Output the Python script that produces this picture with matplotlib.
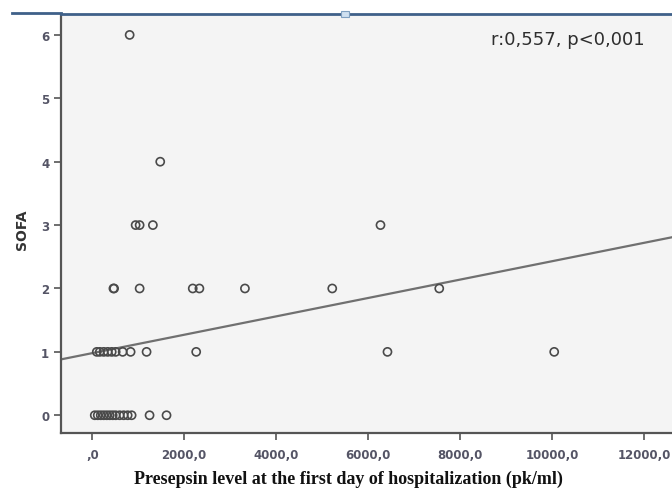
import matplotlib
matplotlib.use("Agg")
import matplotlib.pyplot as plt
from matplotlib.patches import Rectangle
import numpy as np

# --- data ---
presepsin_sofa0 = [54, 119, 184, 249, 314, 379, 444, 509, 596, 683, 770, 856, 1246, 1615]
presepsin_sofa1 = [98, 163, 249, 336, 423, 509, 661, 834, 1181, 2260, 6420, 10046]
presepsin_sofa2 = [460, 475, 1030, 2185, 2330, 3320, 5219, 7546]
presepsin_sofa3 = [943, 1030, 1318, 6268]
presepsin_sofa4 = [1478]
presepsin_sofa6 = [813]

sofa_levels = [0, 1, 2, 3, 4, 6]
fit_intercept = 0.98
fit_slope = 0.000145

x_ticks = [0, 2000, 4000, 6000, 8000, 10000, 12000]
x_tick_labels = [",0", "2000,0", "4000,0", "6000,0", "8000,0", "10000,0", "12000,0"]
y_ticks = [0, 1, 2, 3, 4, 5, 6]
annotation = "r:0,557, p<0,001"
x_label = "Presepsin level at the first day of hospitalization (pk/ml)"
y_label = "SOFA"

fig = plt.figure(figsize=(6.72, 4.89), dpi=100)
fig.patch.set_facecolor("white")
ax = fig.add_axes([61/672, 1-434/489, 1.02-61/672, (434-15)/489])
ax.set_facecolor("#f4f4f4")

groups = [presepsin_sofa0, presepsin_sofa1, presepsin_sofa2,
          presepsin_sofa3, presepsin_sofa4, presepsin_sofa6]
for lvl, xs in zip(sofa_levels, groups):
    ax.scatter(xs, [lvl]*len(xs), s=34, facecolors="none",
               edgecolors="#4a4a4a", linewidths=1.2, zorder=3)

xlim = (-680, 12900)
xl = np.array(xlim)
ax.plot(xl, fit_intercept + fit_slope*xl, color="#707070", lw=1.6, zorder=2)

ax.set_xlim(*xlim)
ax.set_ylim(-0.28, 6.33)
ax.set_xticks(x_ticks)
ax.set_xticklabels(x_tick_labels, fontsize=8.5, color="#555566", fontweight="bold")
ax.set_yticks(y_ticks)
ax.set_yticklabels([str(v) for v in y_ticks], fontsize=8.5, color="#555566", fontweight="bold")
ax.tick_params(axis="both", direction="out", length=5, width=1.2, color="#555555")
ax.tick_params(axis="x", pad=6)

for side in ["left", "bottom"]:
    ax.spines[side].set_color("#555555")
    ax.spines[side].set_linewidth(1.6)
ax.spines["right"].set_visible(False)
ax.spines["top"].set_color("#3f6089")
ax.spines["top"].set_linewidth(2.0)

fig.text(491/672, 1-40/489, annotation, fontsize=13, color="#2e2e2e",
         va="center", ha="left", family="DejaVu Sans")

fig.text(22/672, 1-230/489, y_label, rotation=90, fontsize=10, fontweight="bold",
         color="#333333", va="center", ha="center", family="DejaVu Sans")
fig.text(348/672, 1-479/489, x_label, fontsize=13, fontweight="bold",
         family="Liberation Serif", color="#111111", va="center", ha="center")

# frame decoration at top
fig.add_artist(plt.Line2D([12/672, 61/672], [1-14/489, 1-14/489],
                          transform=fig.transFigure, color="#3f6089", lw=2.0))
fig.add_artist(Rectangle((341/672, 1-18/489), 8/672, 6/489, transform=fig.transFigure,
                         facecolor="#cfe0f0", edgecolor="#7fa0c0", lw=0.8))

fig.savefig("out.png", dpi=100)
